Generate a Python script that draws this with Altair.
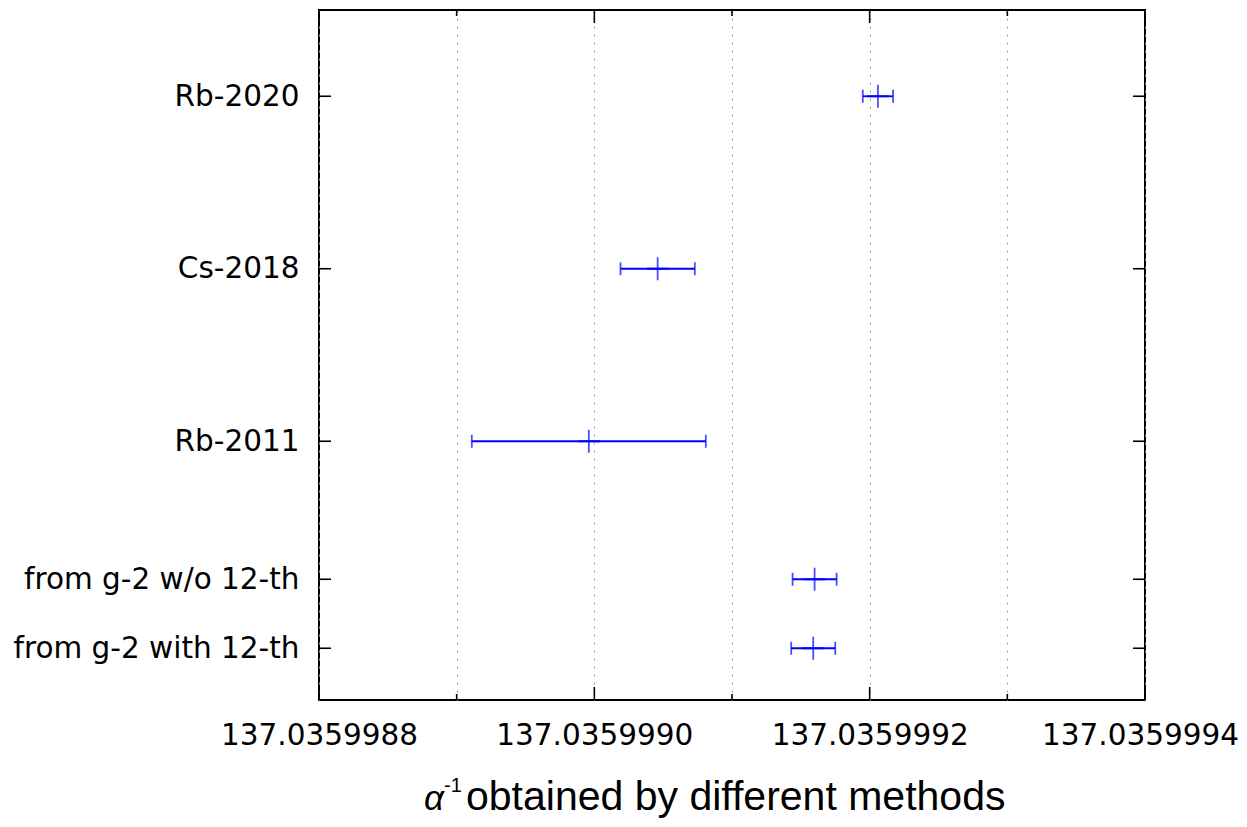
import altair as alt
import pandas as pd

# ---- data ----
names = ["Rb-2020", "Cs-2018", "Rb-2011", "from g-2 w/o 12-th", "from g-2 with 12-th"]
ypos = [17.5, 12.5, 7.5, 3.5, 1.5]
values = [137.035999206, 137.035999046, 137.035998996, 137.035999160, 137.035999159]
errors = [0.000000011, 0.000000027, 0.000000085, 0.000000016, 0.000000016]

xticks = [137.0359988, 137.0359989, 137.0359990, 137.0359991,
          137.0359992, 137.0359993, 137.0359994]
xmajor = [True, False, True, False, True, False, True]

title_alpha = "α"
title_sup = "-1"
title_rest = "obtained by different methods"

df = pd.DataFrame({"name": names, "y": ypos, "v": values, "e": errors})
df["lo"] = df["v"] - df["e"]
df["hi"] = df["v"] + df["e"]
tk = pd.DataFrame({"t": xticks, "major": xmajor})

W, H = 826, 690
BLUE = "#0000ff"
LW = 1.8
xs = alt.Scale(domain=[xticks[0], xticks[-1]], nice=False, zero=False)
ys = alt.Scale(domain=[0, 20], nice=False, zero=False)

x_label_expr = (
    f"(round((datum.value - {xticks[0]}) * 1e7) % 2 == 0) ? format(datum.value, '.7f') : ''"
)
y_label_expr = ""
for n, p in zip(names, ypos):
    y_label_expr += f"abs(datum.value - {p}) < 0.01 ? '{n}' : "
y_label_expr += "''"

xaxis = alt.Axis(
    values=xticks, labelExpr=x_label_expr, ticks=False, tickSize=0, domain=False,
    grid=True, gridDash=[2, 6], gridColor="#9a9a9a", gridWidth=1,
    labelFont="DejaVu Sans", labelFontSize=29.5, labelColor="black", labelLimit=0,
    labelPadding=21, labelFlush=False, labelOverlap=False, labelBound=False, title=None,
    labelOffset=alt.condition(f"datum.value > {xticks[-2]}", alt.value(-5), alt.value(0)),
)
yaxis = alt.Axis(
    values=ypos, labelExpr=y_label_expr, ticks=False, tickSize=0, domain=False,
    grid=False, labelFont="DejaVu Sans", labelFontSize=29.5, labelColor="black",
    labelLimit=0, labelPadding=20, labelOverlap=False, labelBound=False, title=None,
)

base = alt.Chart(df)

bars = base.mark_rule(color=BLUE, strokeWidth=LW).encode(
    x=alt.X("lo:Q", scale=xs, axis=xaxis, title=None),
    x2="hi:Q",
    y=alt.Y("y:Q", scale=ys, axis=yaxis, title=None),
)
caps = base.transform_fold(["lo", "hi"], as_=["k", "xv"]).mark_tick(
    orient="vertical", size=13, thickness=LW, color=BLUE
).encode(
    x=alt.X("xv:Q", scale=xs, title=None),
    y=alt.Y("y:Q", scale=ys, title=None),
)
center_v = base.mark_tick(orient="vertical", size=23, thickness=LW, color=BLUE).encode(
    x=alt.X("v:Q", scale=xs, title=None),
    y=alt.Y("y:Q", scale=ys, title=None),
)
center_h = base.mark_tick(orient="horizontal", size=22, thickness=2.2, color=BLUE).encode(
    x=alt.X("v:Q", scale=xs, title=None),
    y=alt.Y("y:Q", scale=ys, title=None),
)

# inward ticks (gnuplot style, mirrored)
ytick_l = base.mark_rule(color="black", strokeWidth=1.6).encode(
    x=alt.value(0), x2=alt.value(12), y=alt.Y("y:Q", scale=ys, title=None)
)
ytick_r = base.mark_rule(color="black", strokeWidth=1.6).encode(
    x=alt.value(W - 12), x2=alt.value(W), y=alt.Y("y:Q", scale=ys, title=None)
)
tkb = alt.Chart(tk)
xt_major_b = tkb.transform_filter("datum.major").mark_rule(color="black", strokeWidth=1.6).encode(
    x=alt.X("t:Q", scale=xs, title=None), y=alt.value(H), y2=alt.value(H - 13)
)
xt_minor_b = tkb.transform_filter("!datum.major").mark_rule(color="black", strokeWidth=1.6).encode(
    x=alt.X("t:Q", scale=xs, title=None), y=alt.value(H), y2=alt.value(H - 6)
)
xt_major_t = tkb.transform_filter("datum.major").mark_rule(color="black", strokeWidth=1.6).encode(
    x=alt.X("t:Q", scale=xs, title=None), y=alt.value(0), y2=alt.value(13)
)
xt_minor_t = tkb.transform_filter("!datum.major").mark_rule(color="black", strokeWidth=1.6).encode(
    x=alt.X("t:Q", scale=xs, title=None), y=alt.value(0), y2=alt.value(6)
)

# axis title with italic alpha and superscript
one = alt.Chart(pd.DataFrame({"a": [0]}))
t_alpha = one.mark_text(
    text=title_alpha, font="Liberation Sans", fontStyle="italic", fontSize=35,
    align="left", baseline="alphabetic", color="black",
).encode(x=alt.value(105), y=alt.value(800))
t_sup = one.mark_text(
    text=title_sup, font="Liberation Sans", fontSize=20,
    align="left", baseline="alphabetic", color="black",
).encode(x=alt.value(125), y=alt.value(782))
t_rest = one.mark_text(
    text=title_rest, font="Liberation Sans", fontSize=41,
    align="left", baseline="alphabetic", color="black",
).encode(x=alt.value(147), y=alt.value(800))

chart = alt.layer(
    bars, caps, center_v, center_h,
    ytick_l, ytick_r, xt_major_b, xt_minor_b, xt_major_t, xt_minor_t,
    t_alpha, t_sup, t_rest,
).properties(
    width=W, height=H,
    autosize=alt.AutoSizeParams(type="none"),
    padding={"left": 311, "top": 2, "right": 94, "bottom": 119},
).configure(
    background="white"
).configure_view(
    stroke="black", strokeWidth=2
)

chart.save("out.html", embed_options={"renderer": "svg", "actions": False})
